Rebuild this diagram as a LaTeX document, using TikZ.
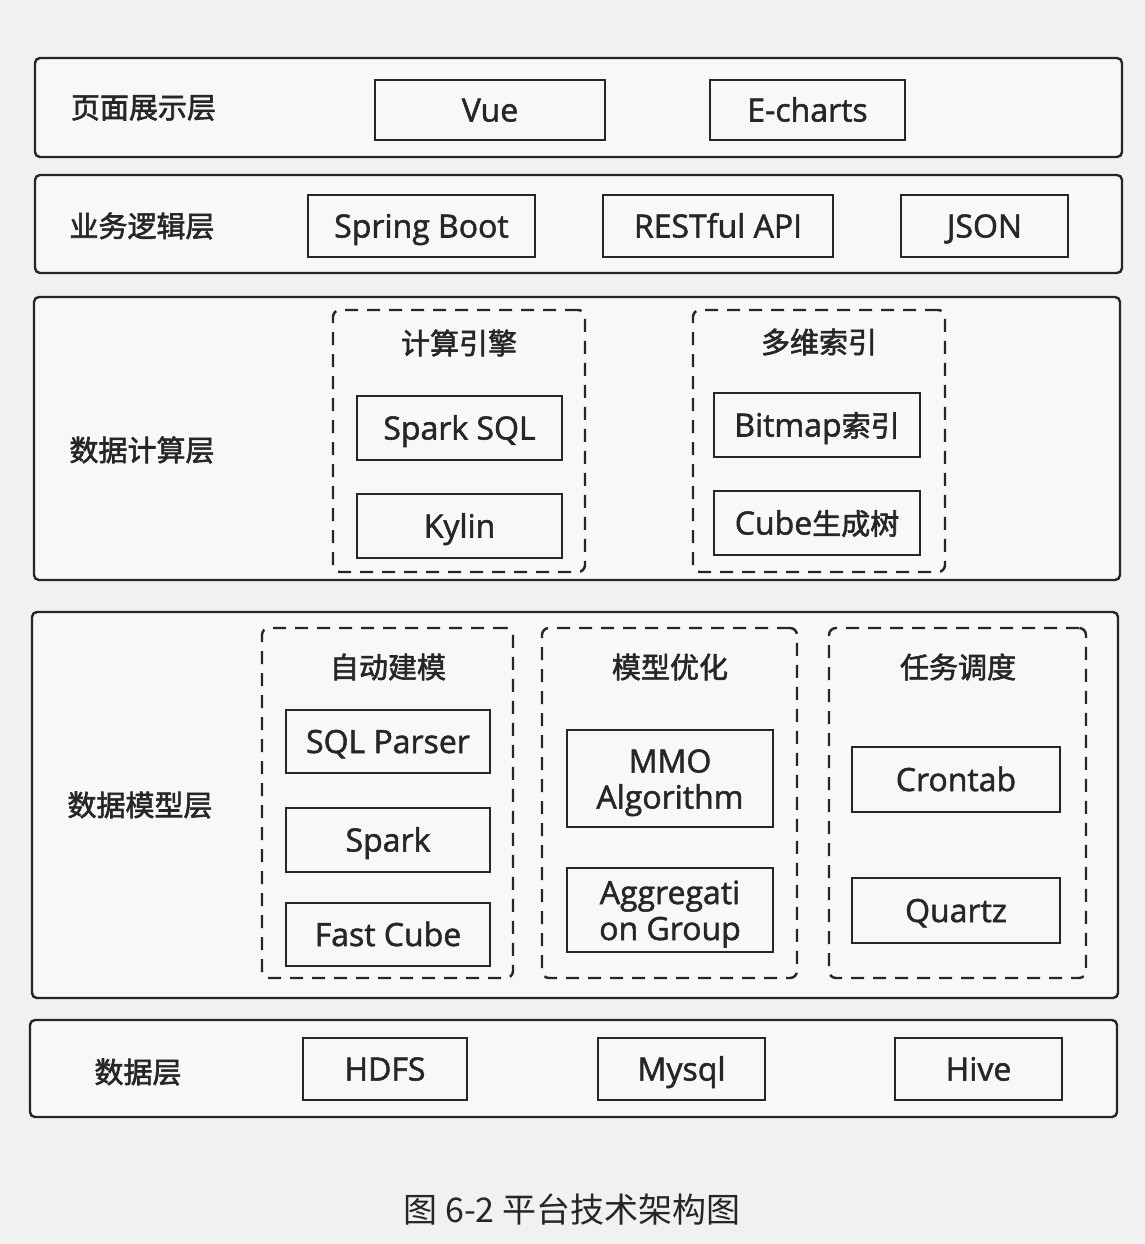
\documentclass[tikz,border=0pt]{standalone}
\usepackage{fontspec}
\setmainfont[FakeBold=1.6]{Open Sans}
\newfontfamily\cjk[FakeBold=2]{Noto Sans CJK SC}
\newfontfamily\capfont{Noto Sans CJK SC}
\definecolor{bgc}{RGB}{241,241,241}
\definecolor{inc}{RGB}{248,248,248}
\definecolor{ink}{RGB}{38,38,38}
\begin{document}
\begin{tikzpicture}[x=1pt,y=-1pt,
  layer/.style={draw=ink, line width=2.4pt, rounded corners=5pt, fill=inc, inner sep=0pt},
  item/.style={draw=ink, line width=2.4pt, fill=inc, text=ink, inner sep=0pt, align=center,
    font=\fontsize{32}{36}\selectfont},
  one/.style={text height=23pt, text depth=0pt},
  two/.style={text height=60pt, text depth=0pt},
  group/.style={draw=ink, line width=2.4pt, dash pattern=on 13pt off 9pt, rounded corners=7pt, inner sep=0pt},
  lbl/.style={text=ink, inner sep=0pt, font=\cjk\fontsize{29}{34}\selectfont},
  ttl/.style={text=ink, inner sep=0pt, font=\cjk\fontsize{29}{34}\selectfont}
]
\fill[bgc] (0,0) rectangle (1145,1244);
\useasboundingbox (0,0) rectangle (1145,1244);

% Layer 1
\node[layer, minimum width=1087pt, minimum height=99pt] (L1) at (578.5,107.5) {};
\node[lbl] (L1t) at (143.5,108) {页面展示层};
\node[item, one, minimum width=230pt, minimum height=60pt] (vue) at (490,110) {Vue};
\node[item, one, minimum width=195pt, minimum height=60pt] (echarts) at (807.5,110) {E-charts};

% Layer 2
\node[layer, minimum width=1087pt, minimum height=98pt] (L2) at (578.5,224) {};
\node[lbl] (L2t) at (142,226) {业务逻辑层};
\node[item, one, minimum width=227pt, minimum height=62pt] (spring) at (421.5,226) {Spring Boot};
\node[item, one, minimum width=230pt, minimum height=62pt] (rest) at (718,226) {RESTful API};
\node[item, one, minimum width=167pt, minimum height=62pt] (json) at (984.5,226) {JSON};

% Layer 3
\node[layer, minimum width=1086pt, minimum height=283pt] (L3) at (577,438.5) {};
\node[lbl] (L3t) at (142,450) {数据计算层};
\node[group, minimum width=252pt, minimum height=262pt] (G1) at (459,441) {};
\node[ttl] (G1t) at (459,343) {计算引擎};
\node[item, one, minimum width=205pt, minimum height=64pt] (sparksql) at (459.5,428) {Spark SQL};
\node[item, one, minimum width=205pt, minimum height=64pt] (kylin) at (459.5,526) {Kylin};
\node[group, minimum width=252pt, minimum height=262pt] (G2) at (819,441) {};
\node[ttl] (G2t) at (819,342) {多维索引};
\node[item, one, minimum width=206pt, minimum height=64pt] (bitmap) at (817,425) {Bitmap{\cjk\fontsize{29}{34}\selectfont 索引}};
\node[item, one, minimum width=206pt, minimum height=64pt] (cube) at (817,523) {Cube{\cjk\fontsize{29}{34}\selectfont 生成树}};

% Layer 4
\node[layer, minimum width=1086pt, minimum height=386pt] (L4) at (575,805) {};
\node[lbl] (L4t) at (140,805) {数据模型层};
\node[group, minimum width=251pt, minimum height=350pt] (G3) at (387.5,803) {};
\node[ttl] (G3t) at (388,667) {自动建模};
\node[item, one, minimum width=204pt, minimum height=63pt] (sqlp) at (388,741.5) {SQL Parser};
\node[item, one, minimum width=204pt, minimum height=64pt] (spark) at (388,840) {Spark};
\node[item, one, minimum width=204pt, minimum height=63pt] (fast) at (388,934.5) {Fast Cube};
\node[group, minimum width=255pt, minimum height=350pt] (G4) at (669.5,803) {};
\node[ttl] (G4t) at (670,667) {模型优化};
\node[item, two, minimum width=206pt, minimum height=97pt] (mmo) at (670,778.5) {MMO\\Algorithm};
\node[item, two, minimum width=206pt, minimum height=84pt] (agg) at (670,910) {Aggregati\\on Group};
\node[group, minimum width=257pt, minimum height=350pt] (G5) at (957.5,803) {};
\node[ttl] (G5t) at (958,667) {任务调度};
\node[item, one, minimum width=208pt, minimum height=65pt] (cron) at (956,779.5) {Crontab};
\node[item, one, minimum width=208pt, minimum height=65pt] (quartz) at (956,910.5) {Quartz};

% Layer 5
\node[layer, minimum width=1087pt, minimum height=97pt] (L5) at (573.5,1068.5) {};
\node[lbl] (L5t) at (138,1072) {数据层};
\node[item, one, minimum width=164pt, minimum height=62pt] (hdfs) at (385,1069) {HDFS};
\node[item, one, minimum width=167pt, minimum height=62pt] (mysql) at (681.5,1069) {Mysql};
\node[item, one, minimum width=167pt, minimum height=62pt] (hive) at (978.5,1069) {Hive};

% Caption
\node[text=ink, inner sep=0pt, font=\capfont\fontsize{34}{40}\selectfont] (cap) at (572,1210) {图 6-2 平台技术架构图};
\end{tikzpicture}
\end{document}
